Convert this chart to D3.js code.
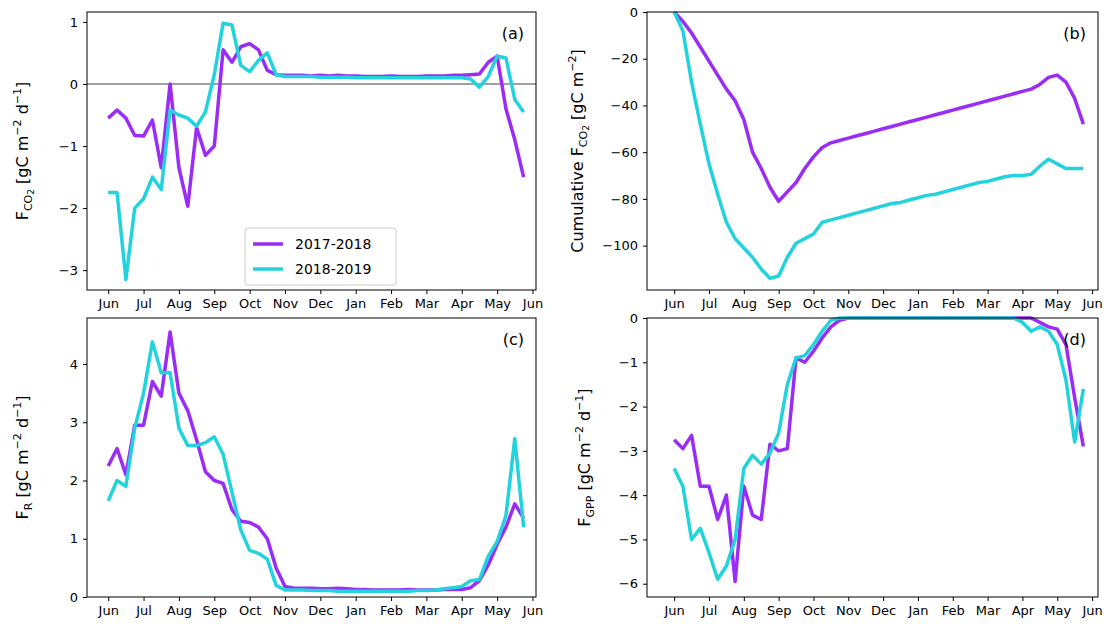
<!DOCTYPE html>
<html>
<head>
<meta charset="utf-8">
<script src="https://cdn.jsdelivr.net/npm/d3@7"></script>
<style>
  body { margin: 0; background: #fff; }
  svg text { font-family: "DejaVu Sans", sans-serif; }
</style>
</head>
<body>
<svg id="chart" width="1108" height="624"></svg>
<script>
// week index -> months since 1 June (one point every quarter month)
const weeks = d3.range(48).map(k => k * 0.25)
const monthLabels = ["Jun","Jul","Aug","Sep","Oct","Nov","Dec","Jan","Feb","Mar","Apr","May","Jun"]

const fco2_1718 = [-0.55,-0.42,-0.55,-0.83,-0.84,-0.58,-1.35,0.0,-1.35,-1.97,-0.7,-1.15,-1.0,0.55,0.35,0.6,0.65,0.55,0.22,0.15,0.14,
  0.14,0.14,0.13,0.14,0.13,0.14,0.13,0.13,0.12,0.12,0.12,0.13,0.12,0.12,0.12,0.13,0.13,0.13,0.14,0.14,0.15,0.16,0.35,0.45,-0.4,-0.9,-1.5]
const fco2_1819 = [-1.75,-1.75,-3.15,-2.0,-1.85,-1.5,-1.7,-0.42,-0.5,-0.55,-0.68,-0.45,0.15,0.98,0.95,0.3,0.2,0.38,0.5,0.15,0.12,
  0.12,0.12,0.12,0.11,0.11,0.11,0.11,0.1,0.1,0.1,0.1,0.1,0.1,0.1,0.1,0.1,0.1,0.1,0.1,0.1,0.08,-0.05,0.12,0.45,0.42,-0.25,-0.45]

const cum_1718 = [0,-4,-9,-15,-21,-27,-33,-38,-46,-60,-67,-75,-81,-77,-73,-67,-62,-58,-56,-55,-54,-53,-52,-51,-50,-49,-48,-47,
  -46,-45,-44,-43,-42,-41,-40,-39,-38,-37,-36,-35,-34,-33,-31,-28,-27,-30,-37,-48]
const cum_1819 = [0,-8,-30,-48,-65,-78,-90,-97,-101,-105,-110,-114,-113,-105,-99,-97,-95,-90,-89,-88,-87,-86,-85,-84,-83,-82,
  -81.5,-80.5,-79.5,-78.5,-78,-77,-76,-75,-74,-73,-72.5,-71.5,-70.5,-70,-70,-69.5,-66,-63,-65,-67,-67,-67]

const fr_1718 = [2.25,2.55,2.1,2.95,2.95,3.7,3.45,4.55,3.5,3.2,2.7,2.15,2.0,1.95,1.5,1.3,1.28,1.2,1.0,0.5,0.18,0.15,0.15,0.15,
  0.14,0.14,0.15,0.14,0.13,0.13,0.12,0.12,0.12,0.12,0.13,0.12,0.12,0.12,0.13,0.13,0.13,0.16,0.28,0.55,0.9,1.2,1.6,1.35]
const fr_1819 = [1.65,2.0,1.9,2.9,3.5,4.38,3.85,3.85,2.9,2.6,2.6,2.65,2.75,2.45,1.8,1.15,0.8,0.75,0.65,0.2,0.12,0.12,0.12,0.11,
  0.11,0.11,0.1,0.1,0.1,0.1,0.1,0.1,0.1,0.1,0.1,0.11,0.11,0.12,0.14,0.16,0.18,0.28,0.3,0.7,0.95,1.4,2.72,1.2]

const gpp_1718 = [-2.75,-2.95,-2.65,-3.8,-3.8,-4.55,-4.0,-5.95,-3.8,-4.45,-4.55,-2.85,-3.0,-2.95,-0.9,-1.0,-0.75,-0.45,-0.2,-0.05,
  0,0,0,0,0,0,0,0,0,0,0,0,0,0,0,0,0,0,0,0,0,0,-0.1,-0.2,-0.25,-0.6,-1.8,-2.9]
const gpp_1819 = [-3.4,-3.8,-5.0,-4.75,-5.3,-5.9,-5.6,-5.0,-3.4,-3.1,-3.3,-3.05,-2.6,-1.5,-0.9,-0.85,-0.6,-0.3,-0.05,0,
  0,0,0,0,0,0,0,0,0,0,0,0,0,0,0,0,0,0,0,0,-0.1,-0.3,-0.2,-0.3,-0.6,-1.4,-2.8,-1.6]

const seriesNames = ["2017-2018", "2018-2019"]
const colors = ["#9b2cf5", "#22d3de"]

const svg = d3.select("#chart")

// label parts: [text, "sub"|"sup"|null]
const panels = [
  { box: [87, 12, 536, 290], xd: [-0.6, 12.1], yd: [-3.32, 1.16], yt: [-3,-2,-1,0,1], tag: "(a)", zero: true,
    data: [fco2_1718, fco2_1819], legend: true,
    label: [["F","n"],["CO","sub"],["2","sub2"],[" [gC m","n"],["−2","sup"],[" d","n"],["−1","sup"],["]","n"]], lx: 28 },
  { box: [647, 12, 1098, 290], xd: [-0.78, 12.17], yd: [-119, 0], yt: [-100,-80,-60,-40,-20,0], tag: "(b)",
    data: [cum_1718, cum_1819],
    label: [["Cumulative F","n"],["CO","sub"],["2","sub2"],[" [gC m","n"],["−2","sup"],["]","n"]], lx: 583 },
  { box: [87, 318, 536, 597], xd: [-0.6, 12.1], yd: [0, 4.79], yt: [0,1,2,3,4], tag: "(c)",
    data: [fr_1718, fr_1819],
    label: [["F","n"],["R","sub"],[" [gC m","n"],["−2","sup"],[" d","n"],["−1","sup"],["]","n"]], lx: 28 },
  { box: [647, 318, 1098, 597], xd: [-0.78, 12.17], yd: [-6.3, 0], yt: [-6,-5,-4,-3,-2,-1,0], tag: "(d)",
    data: [gpp_1718, gpp_1819],
    label: [["F","n"],["GPP","sub"],[" [gC m","n"],["−2","sup"],[" d","n"],["−1","sup"],["]","n"]], lx: 590 }
]

panels.forEach(p => {
  const [x0, y0, x1, y1] = p.box
  const x = d3.scaleLinear().domain(p.xd).range([x0, x1])
  const y = d3.scaleLinear().domain(p.yd).range([y1, y0])
  const g = svg.append("g")

  const xAxis = g.append("g").attr("transform", `translate(0,${y1})`)
    .call(d3.axisBottom(x).tickValues(d3.range(13)).tickFormat(i => monthLabels[i]).tickSize(4).tickPadding(5))
  const yAxis = g.append("g").attr("transform", `translate(${x0},0)`)
    .call(d3.axisLeft(y).tickValues(p.yt).tickFormat(d => d < 0 ? "−" + Math.abs(d) : d).tickSize(4).tickPadding(5))
  ;[xAxis, yAxis].forEach(a => {
    a.select(".domain").remove()
    a.selectAll("text").attr("font-size", 13).attr("fill", "#000").style("font-family", "DejaVu Sans")
    a.selectAll("line").attr("stroke", "#000")
  })

  if (p.zero) {
    g.append("line").attr("x1", x0).attr("x2", x1).attr("y1", y(0)).attr("y2", y(0))
      .attr("stroke", "#808080").attr("stroke-width", 1.5)
  }

  const line = d3.line().x((d, i) => x(weeks[i])).y(d => y(d))
  p.data.forEach((vals, si) => {
    g.append("path").datum(vals).attr("d", line)
      .attr("fill", "none").attr("stroke", colors[si]).attr("stroke-width", 3.5)
      .attr("stroke-linejoin", "round")
  })

  g.append("rect").attr("x", x0).attr("y", y0).attr("width", x1 - x0).attr("height", y1 - y0)
    .attr("fill", "none").attr("stroke", "#000").attr("stroke-width", 1)

  g.append("text").attr("x", x1 - 12).attr("y", y0 + 27).attr("text-anchor", "end")
    .attr("font-size", 16).text(p.tag)

  // y label with sub/superscripts
  const t = g.append("text").attr("font-size", 16).attr("text-anchor", "middle")
    .attr("transform", `translate(${p.lx},${(y0 + y1) / 2}) rotate(-90)`)
  p.label.forEach(([s, kind]) => {
    const ts = t.append("tspan").text(s)
    if (kind === "sub") ts.attr("font-size", 11).attr("dy", 4)
    if (kind === "sub2") ts.attr("font-size", 9).attr("dy", 2)
    if (kind === "sup") ts.attr("font-size", 11).attr("dy", -7)
    if (kind === "n") {
      const prev = p.label[p.label.findIndex(l => l[0] === s) - 1]
      if (prev && prev[1] === "sub") ts.attr("dy", -4)
      if (prev && prev[1] === "sub2") ts.attr("dy", -6)
      if (prev && prev[1] === "sup") ts.attr("dy", 7)
    }
  })

  if (p.legend) {
    const lg = g.append("g").attr("transform", "translate(245,228)")
    lg.append("rect").attr("width", 151).attr("height", 57).attr("rx", 3)
      .attr("fill", "#fff").attr("stroke", "#ccc")
    seriesNames.forEach((n, i) => {
      lg.append("line").attr("x1", 8).attr("x2", 38).attr("y1", 16 + i * 25).attr("y2", 16 + i * 25)
        .attr("stroke", colors[i]).attr("stroke-width", 3.5)
      lg.append("text").attr("x", 50).attr("y", 21 + i * 25).attr("font-size", 14).text(n)
    })
  }
})
</script>
</body>
</html>
